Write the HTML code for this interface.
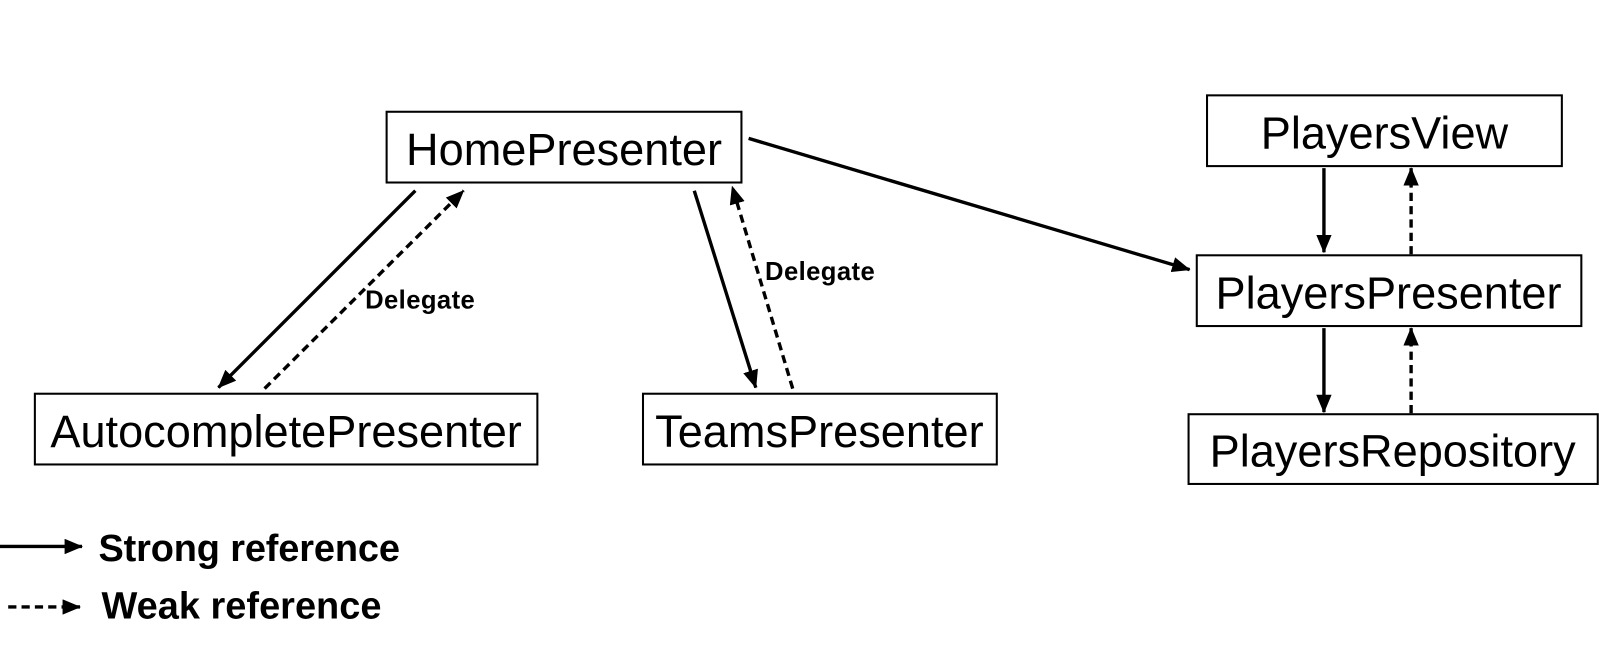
<!DOCTYPE html>
<html><head><meta charset="utf-8"><style>
html,body{margin:0;padding:0;background:#fff;}
svg{display:block;}
text{font-family:"Liberation Sans",Arial,sans-serif;fill:#000;}
</style></head><body>
<svg width="1608" height="648" viewBox="0 0 1568 632" preserveAspectRatio="none" xmlns="http://www.w3.org/2000/svg">
<defs>
<marker id="b" markerWidth="18" markerHeight="15" refX="17" refY="7.5" orient="auto" markerUnits="userSpaceOnUse" viewBox="0 0 18 15">
<path d="M0,0 L18,7.5 L0,15 z" fill="#000"/></marker>
</defs>
<g fill="#fff" stroke="#000" stroke-width="2">
<rect x="377" y="109" width="346" height="69"/>
<rect x="34" y="384" width="490" height="69"/>
<rect x="627" y="384" width="345" height="69"/>
<rect x="1177" y="93" width="346" height="69"/>
<rect x="1167" y="249" width="375" height="69"/>
<rect x="1159" y="404" width="399" height="68"/>
</g>
<g font-size="44" text-anchor="middle">
<text x="550" y="161">HomePresenter</text>
<text x="279" y="436">AutocompletePresenter</text>
<text x="799" y="436">TeamsPresenter</text>
<text x="1350" y="145">PlayersView</text>
<text x="1354" y="301">PlayersPresenter</text>
<text x="1358" y="455">PlayersRepository</text>
</g>
<g stroke="#000" stroke-width="3.3" fill="none">
<line x1="405" y1="186" x2="213" y2="378" marker-end="url(#b)"/>
<line x1="677" y1="186" x2="737" y2="378" marker-end="url(#b)"/>
<line x1="730" y1="135" x2="1160" y2="263" marker-end="url(#b)"/>
<line x1="1291" y1="164" x2="1291" y2="246" marker-end="url(#b)"/>
<line x1="1291" y1="320" x2="1291" y2="402" marker-end="url(#b)"/>
<line x1="0" y1="533" x2="80" y2="533" marker-end="url(#b)"/>
</g>
<g stroke="#000" stroke-width="3.3" fill="none" stroke-dasharray="8,5">
<line x1="258" y1="379" x2="452" y2="186" marker-end="url(#b)"/>
<line x1="773" y1="379" x2="714" y2="182" marker-end="url(#b)"/>
<line x1="1376" y1="248" x2="1376" y2="164" marker-end="url(#b)"/>
<line x1="1376" y1="403" x2="1376" y2="320" marker-end="url(#b)"/>
<line x1="8" y1="592" x2="78" y2="592" marker-end="url(#b)"/>
</g>
<g font-size="25" font-weight="bold">
<text x="356" y="301" textLength="107">Delegate</text>
<text x="746" y="273" textLength="107">Delegate</text>
</g>
<g font-size="37" font-weight="bold">
<text x="96" y="547" textLength="294">Strong reference</text>
<text x="99" y="603" textLength="273">Weak reference</text>
</g>
</svg>
</body></html>
